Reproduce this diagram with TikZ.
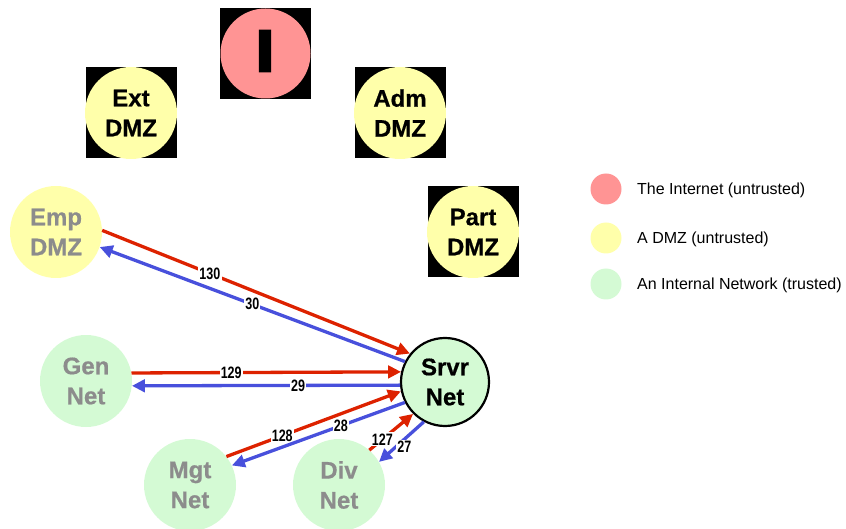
\documentclass[tikz,border=0pt]{standalone}
\usepackage{fontspec}
\setmainfont{Liberation Sans}[BoldFeatures={FakeBold=0.6}]
\newfontfamily\lblfam{Liberation Sans}[FakeStretch=0.76]
\newfontfamily\bigfam{DejaVu Sans}[BoldFeatures={FakeBold=2.5}]
\usetikzlibrary{arrows.meta}

\definecolor{inetpink}{RGB}{255,148,148}
\definecolor{dmzyellow}{RGB}{255,255,170}
\definecolor{intgreen}{RGB}{212,250,212}
\definecolor{dimgray}{RGB}{140,140,140}
\definecolor{outred}{RGB}{221,34,0}
\definecolor{backblue}{RGB}{72,80,220}

\tikzset{
  net/.style={circle, minimum size=92pt, inner sep=0pt, align=center,
              font=\fontsize{24}{30}\selectfont\bfseries},
  backsq/.style={rectangle, fill=black, minimum size=91pt, inner sep=0pt},
  dmz/.style={net, fill=dmzyellow},
  dimdmz/.style={dmz, text=dimgray},
  intnet/.style={net, fill=intgreen, text=dimgray},
  keydot/.style={circle, minimum size=31pt, inner sep=0pt},
  keytext/.style={anchor=west, inner sep=0pt, font=\fontsize{16}{19}\selectfont},
  flow/.style={line width=3.3pt, -{Triangle[length=13pt,width=12.5pt]}},
  outflow/.style={flow, outred},
  backflow/.style={flow, backblue},
  count/.style={fill=white, inner sep=1.2pt, text=black,
                font=\lblfam\bfseries\fontsize{16.5}{16.5}\selectfont}
}

\begin{document}
\begin{tikzpicture}[x=1pt, y=-1pt]
  \useasboundingbox (0,0) rectangle (846,529);

  % untrusted networks on black tiles
  \node[backsq] (inetbg) at (265.5,53.5) {};
  \node[net, fill=inetpink, minimum size=90pt] (inet) at (265.5,53.5) {};
  \node[inner sep=0pt, font=\bigfam\bfseries\fontsize{57}{57}\selectfont] (inetI) at (265,51) {I};

  \node[backsq] (extbg) at (131,113) {};
  \node[dmz] (ext) at (131,113) {Ext\\DMZ};

  \node[backsq] (admbg) at (400,113) {};
  \node[dmz] (adm) at (400,113) {Adm\\DMZ};

  \node[backsq] (partbg) at (473,232) {};
  \node[dmz] (part) at (473,232) {Part\\DMZ};

  % dimmed networks
  \node[dimdmz] (emp) at (56,232) {Emp\\DMZ};
  \node[intnet] (gen) at (86,381) {Gen\\Net};
  \node[intnet] (mgt) at (190,485) {Mgt\\Net};
  \node[intnet] (div) at (339,485) {Div\\Net};

  % server network
  \node[net, fill=intgreen, draw=black, line width=2.2pt, minimum size=88pt] (srv) at (445,382) {Srvr\\Net};

  % flows into and out of the server network
  \draw[outflow] (emp.2) -- node[count, pos=0.35] {130} (srv.141);
  \draw[backflow] (srv.153) -- node[count, pos=0.5] {30} (emp.-19);

  \draw[outflow] (gen.10) -- node[count, pos=0.37] {129} (srv.167);
  \draw[backflow] (srv.184) -- node[count, pos=0.38] {29} (gen.-6);

  \draw[outflow] (mgt.38) -- node[count, pos=0.32] {128} (srv.192);
  \draw[backflow] (srv.207) -- node[count, pos=0.37] {28} (mgt.25);

  \draw[outflow] (div.49) -- node[count, pos=0.3] {127} (srv.225);
  \draw[backflow] (srv.242) -- node[count, pos=0.5, xshift=3pt, yshift=-5pt] {27} (div.30);

  % legend
  \node[keydot, fill=inetpink] (key1) at (606,189) {};
  \node[keytext] (key1t) at (637,190) {The Internet (untrusted)};
  \node[keydot, fill=dmzyellow] (key2) at (606,238) {};
  \node[keytext] (key2t) at (637,239) {A DMZ (untrusted)};
  \node[keydot, fill=intgreen] (key3) at (606,284) {};
  \node[keytext] (key3t) at (637,285) {An Internal Network (trusted)};
\end{tikzpicture}
\end{document}
